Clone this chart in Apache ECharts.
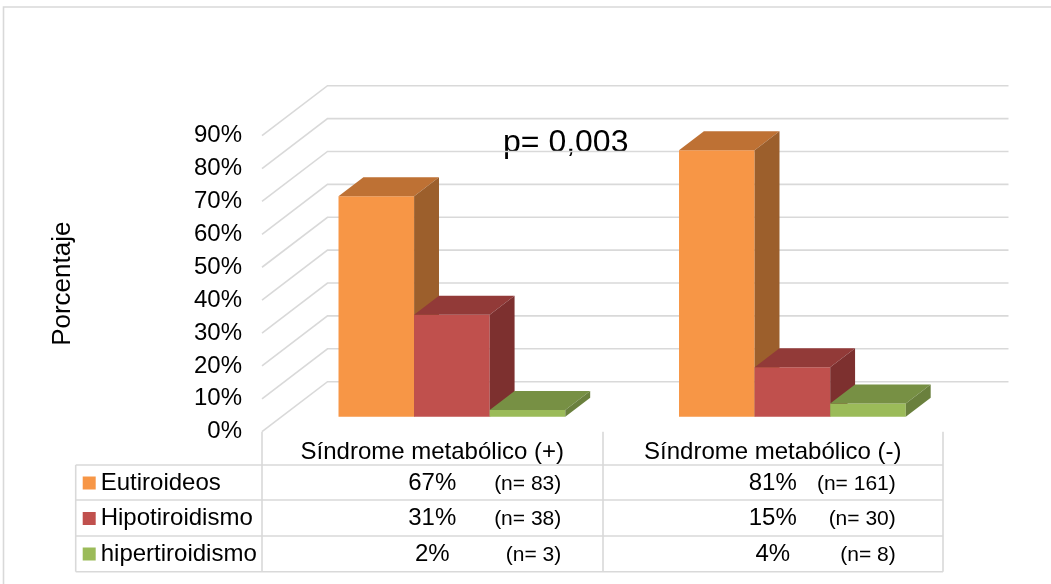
<!DOCTYPE html>
<html>
<head>
<meta charset="utf-8">
<style>
  html, body { margin: 0; padding: 0; background: #ffffff; }
  #chart { width: 1051px; height: 584px; }
</style>
<script src="https://cdn.jsdelivr.net/npm/echarts@6/dist/echarts.min.js"></script>
</head>
<body>
<div id="chart"></div>
<script>
// ---- data ----
const categories = ['Síndrome metabólico (+)', 'Síndrome metabólico (-)'];
const seriesNames = ['Eutiroideos', 'Hipotiroidismo', 'hipertiroidismo'];
const eutiroideos = [67, 81];
const hipotiroidismo = [31, 15];
const hipertiroidismo = [2, 4];
const nEutiroideos = [83, 161];
const nHipotiroidismo = [38, 30];
const nHipertiroidismo = [3, 8];
const yTicks = [0, 10, 20, 30, 40, 50, 60, 70, 80, 90];
const pValueText = 'p= 0,003';
const axisTitle = 'Porcentaje';

// ---- styling / layout ----
const FONT = "'Liberation Sans', Arial, sans-serif";
const GRID_LINE = '#d9d9d9';
const faceColors = [
  { front: '#F79646', top: '#BE7134', side: '#9C5F2C' },
  { front: '#C0504D', top: '#923A38', side: '#7D302F' },
  { front: '#9BBB59', top: '#779044', side: '#6A803D' }
];
// oblique depth vector of the plot box (pixels)
const DX = 65.5, DY = -50;
// bars occupy this slice of the depth
const D0 = 0.30, D1 = 0.68;
// each bar's width as a share of the category band
const BAR_FRAC = 0.222;
// table rows (center y of each series row), table frame
const ROW_Y = [483, 518, 554];
const TABLE_LEFT = 75.7, TABLE_RIGHT = 943;
const TABLE_LINES_Y = [465, 500, 536, 571.7];
// right edge of the "(n= ..)" text relative to the category center
const N_OFFSET = [129, 123];

const valueSets = [eutiroideos, hipotiroidismo, hipertiroidismo];
const countSets = [nEutiroideos, nHipotiroidismo, nHipertiroidismo];

// back wall and left wall gridlines, one per tick value
function wallItem(params, api) {
  const v = api.value(1);
  const band = api.size([1, 0])[0];
  const p0 = api.coord([0, v]);
  const p1 = api.coord([categories.length - 1, v]);
  const xl = p0[0] - band / 2;
  const xr = p1[0] + band / 2;
  const y = p0[1];
  return {
    type: 'polyline',
    shape: { points: [[xl, y], [xl + DX, y + DY], [xr + DX, y + DY]] },
    style: { stroke: GRID_LINE, lineWidth: 1.6, fill: null },
    silent: true
  };
}

// one 3D column plus its data-table cell
function barItem(si) {
  return function (params, api) {
    const cat = api.value(0);
    const val = api.value(1);
    const base = api.coord([cat, 0]);
    const top = api.coord([cat, val]);
    const band = api.size([1, 0])[0];
    const w = band * BAR_FRAC;
    const x0 = base[0] - 1.5 * w + si * w + DX * D0;
    const x1 = x0 + w;
    const yb = base[1] + DY * D0;
    const yt = top[1] + DY * D0;
    const ox = DX * (D1 - D0), oy = DY * (D1 - D0);
    const c = faceColors[si];
    const n = countSets[si][cat];
    return {
      type: 'group',
      children: [
        { type: 'rect', shape: { x: x0, y: yt, width: w, height: yb - yt },
          style: { fill: c.front } },
        { type: 'polygon',
          shape: { points: [[x0, yt], [x1, yt], [x1 + ox, yt + oy], [x0 + ox, yt + oy]] },
          style: { fill: c.top } },
        { type: 'polygon',
          shape: { points: [[x1, yt], [x1 + ox, yt + oy], [x1 + ox, yb + oy], [x1, yb]] },
          style: { fill: c.side } },
        { type: 'text',
          style: { x: base[0], y: ROW_Y[si], text: val + '%', fill: '#000',
                   font: '24px ' + FONT, align: 'center', verticalAlign: 'middle' } },
        { type: 'text',
          style: { x: base[0] + N_OFFSET[cat], y: ROW_Y[si] + 1, text: '(n= ' + n + ')', fill: '#000',
                   font: '21px ' + FONT, align: 'right', verticalAlign: 'middle' } }
      ]
    };
  };
}

const chart = echarts.init(document.getElementById('chart'), null, { renderer: 'canvas' });

const barSeries = seriesNames.map((name, si) => ({
  name: name,
  type: 'custom',
  z: 3 + si,
  clip: false,
  itemStyle: { color: faceColors[si].front },
  encode: { x: 0, y: 1 },
  data: valueSets[si].map((v, i) => [i, v]),
  renderItem: barItem(si)
}));

const tableLines = TABLE_LINES_Y.map(y => ({
  type: 'line', silent: true,
  shape: { x1: TABLE_LEFT, y1: y, x2: TABLE_RIGHT, y2: y },
  style: { stroke: GRID_LINE, lineWidth: 1.6 }
}));
tableLines.push({
  type: 'line', silent: true,
  shape: { x1: TABLE_LEFT, y1: TABLE_LINES_Y[0], x2: TABLE_LEFT, y2: TABLE_LINES_Y[3] },
  style: { stroke: GRID_LINE, lineWidth: 1.6 }
});

chart.setOption({
  backgroundColor: '#ffffff',
  animation: false,
  textStyle: { fontFamily: FONT },
  grid: { left: 262, right: 108, top: 135.7, bottom: 152.3, containLabel: false, outerBoundsMode: 'none' },
  legend: {
    data: seriesNames,
    orient: 'vertical',
    left: 82.7,
    top: 471,
    padding: 0,
    icon: 'rect',
    itemWidth: 13,
    itemHeight: 13,
    itemGap: 11.5,
    selectedMode: false,
    textStyle: { fontSize: 24, color: '#000', fontFamily: FONT, lineHeight: 24 }
  },
  xAxis: {
    type: 'category',
    data: categories,
    boundaryGap: true,
    axisLine: { show: false },
    axisTick: { show: true, length: 140, lineStyle: { color: GRID_LINE, width: 1.6 } },
    axisLabel: { fontSize: 24, color: '#000', margin: 9, lineHeight: 24, interval: 0 },
    splitLine: { show: false }
  },
  yAxis: {
    type: 'value',
    min: 0,
    max: 90,
    interval: 10,
    name: axisTitle,
    nameLocation: 'middle',
    nameRotate: 90,
    nameGap: 186,
    nameTextStyle: { fontSize: 26, color: '#000' },
    axisLine: { show: false },
    axisTick: { show: false },
    splitLine: { show: false },
    axisLabel: { formatter: '{value}%', fontSize: 24, color: '#000', margin: 20 }
  },
  graphic: [
    { type: 'rect', silent: true, z: -10,
      shape: { x: 3.5, y: 7, width: 1200, height: 800 },
      style: { fill: null, stroke: GRID_LINE, lineWidth: 1.6 } },
    { type: 'text', left: 503, top: 127,
      style: { text: pValueText, font: '32px ' + FONT, fill: '#000' } }
  ].concat(tableLines),
  series: [
    {
      name: 'wall',
      type: 'custom',
      z: 1,
      clip: false,
      silent: true,
      encode: { x: 0, y: 1 },
      data: yTicks.map(v => [0, v]),
      renderItem: wallItem
    }
  ].concat(barSeries)
});
</script>
</body>
</html>
